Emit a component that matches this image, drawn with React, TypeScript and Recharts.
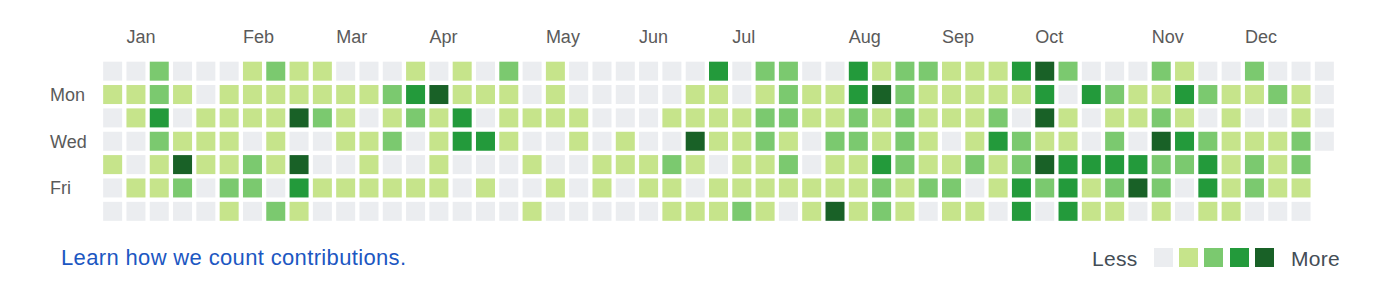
import React from 'react';
import { ScatterChart, Scatter, XAxis, YAxis } from 'recharts';

// month labels sit on the first week column of each month
const MONTHS = ['Jan', 'Feb', 'Mar', 'Apr', 'May', 'Jun', 'Jul', 'Aug', 'Sep', 'Oct', 'Nov', 'Dec'];
const MONTH_WEEKS = [1, 6, 10, 14, 19, 23, 27, 32, 36, 40, 45, 49];

const DAY_NAMES = ['Sun', 'Mon', 'Tue', 'Wed', 'Thu', 'Fri', 'Sat'];
const DAY_TICKS = [1, 3, 5];

const LEVEL_COLORS = ['#ebedf0', '#c6e48b', '#7bc96f', '#239a3b', '#196127'];

// contribution level (0-4) per week, one array per weekday
const sun = [0, 0, 2, 0, 0, 0, 1, 2, 1, 1, 0, 0, 0, 1, 0, 1, 0, 2, 0, 1, 0, 0, 0, 0, 0, 0, 3, 0, 2, 2, 0, 0, 3, 1, 2, 2, 1, 1, 1, 3, 4, 2, 0, 0, 0, 2, 1, 0, 0, 2, 0, 0, 0];
const mon = [1, 1, 2, 1, 0, 1, 1, 1, 1, 1, 1, 1, 2, 3, 4, 1, 1, 1, 0, 1, 0, 0, 0, 0, 0, 1, 1, 0, 1, 2, 1, 1, 3, 4, 2, 1, 1, 1, 1, 1, 3, 0, 3, 2, 1, 1, 3, 2, 1, 1, 2, 1, 0];
const tue = [0, 1, 3, 0, 1, 1, 1, 1, 4, 2, 1, 0, 1, 2, 1, 3, 0, 1, 1, 1, 1, 0, 0, 0, 1, 1, 1, 1, 2, 2, 1, 1, 2, 1, 2, 1, 1, 1, 2, 0, 4, 1, 0, 1, 1, 2, 1, 0, 1, 0, 0, 1, 0];
const wed = [0, 0, 2, 1, 1, 1, 0, 1, 0, 0, 1, 1, 2, 0, 1, 3, 3, 1, 0, 0, 1, 0, 1, 0, 0, 4, 1, 1, 2, 1, 0, 2, 2, 1, 2, 1, 0, 1, 3, 2, 1, 1, 0, 2, 0, 4, 3, 2, 1, 1, 1, 2, 0];
const thu = [1, 0, 1, 4, 1, 1, 2, 1, 4, 0, 0, 1, 0, 0, 1, 0, 0, 0, 1, 0, 0, 1, 1, 1, 2, 1, 0, 1, 1, 2, 0, 1, 1, 3, 2, 1, 1, 2, 1, 2, 4, 3, 3, 3, 3, 2, 2, 3, 1, 2, 1, 2];
const fri = [0, 1, 1, 2, 0, 2, 2, 0, 3, 1, 1, 1, 1, 1, 1, 0, 1, 0, 0, 1, 0, 1, 0, 1, 1, 0, 1, 1, 1, 1, 1, 1, 1, 2, 1, 2, 2, 0, 1, 3, 2, 3, 1, 2, 4, 2, 0, 3, 1, 2, 1, 1];
const sat = [0, 0, 0, 0, 0, 1, 0, 2, 1, 0, 0, 0, 0, 0, 0, 0, 0, 0, 1, 0, 0, 0, 0, 0, 1, 1, 1, 2, 1, 0, 1, 4, 1, 2, 1, 0, 1, 1, 0, 3, 0, 3, 1, 1, 0, 1, 0, 1, 1, 0, 0, 0];

const WEEKDAYS = [sun, mon, tue, wed, thu, fri, sat];

const cells = WEEKDAYS.flatMap((row, day) => row.map((level, week) => ({ week, day, level })));

const CELL = 19;
const LABEL_FONT = '"Liberation Sans", Helvetica, Arial, sans-serif';

const CellShape = (props: any) => {
  const { cx, cy, payload } = props;
  return (
    <rect
      x={cx - CELL / 2}
      y={cy - CELL / 2}
      width={CELL}
      height={CELL}
      fill={LEVEL_COLORS[payload.level]}
    />
  );
};

const MonthTick = (props: any) => {
  const { x, y, payload } = props;
  return (
    <text x={x - CELL / 2} y={y - 16.5} textAnchor="start" fontSize={18} fill="#5a5a5a" fontFamily={LABEL_FONT}>
      {MONTHS[MONTH_WEEKS.indexOf(payload.value)]}
    </text>
  );
};

const DayTick = (props: any) => {
  const { x, y, payload } = props;
  return (
    <text x={x - 51} y={y} dy="0.35em" textAnchor="start" fontSize={18} fill="#5a5a5a" fontFamily={LABEL_FONT}>
      {DAY_NAMES[payload.value]}
    </text>
  );
};

const App: React.FC = () => {
  return (
    <div style={{ position: 'absolute', left: 0, top: 0, width: 1400, height: 295, background: '#fff' }}>
      <ScatterChart width={1400} height={295} margin={{ top: 29.5, right: 64, bottom: 72, left: 0 }}>
        <XAxis
          type="number"
          dataKey="week"
          orientation="top"
          domain={[-0.5, 52.5]}
          ticks={MONTH_WEEKS}
          interval={0}
          height={30}
          tickSize={0}
          tickMargin={0}
          axisLine={false}
          tickLine={false}
          tick={<MonthTick />}
        />
        <YAxis
          type="number"
          dataKey="day"
          reversed
          domain={[-0.5, 6.5]}
          ticks={DAY_TICKS}
          interval={0}
          width={101}
          tickSize={0}
          tickMargin={0}
          axisLine={false}
          tickLine={false}
          tick={<DayTick />}
        />
        <Scatter data={cells} shape={<CellShape />} isAnimationActive={false} />
      </ScatterChart>

      <div
        style={{
          position: 'absolute',
          left: 61,
          top: 247,
          fontFamily: LABEL_FONT,
          fontSize: 22,
          lineHeight: '22px',
          letterSpacing: 0.35,
          color: '#1c57c2',
          whiteSpace: 'nowrap',
        }}
      >
        Learn how we count contributions.
      </div>

      <div style={{ position: 'absolute', left: 1092, top: 248, fontFamily: LABEL_FONT, fontSize: 21, lineHeight: '21px', letterSpacing: 0.3, color: '#444d56' }}>
        Less
      </div>
      {LEVEL_COLORS.map((c, i) => (
        <div
          key={c}
          style={{ position: 'absolute', left: 1154 + i * 25.2, top: 248, width: CELL, height: CELL, background: c }}
        />
      ))}
      <div style={{ position: 'absolute', left: 1291, top: 248, fontFamily: LABEL_FONT, fontSize: 21, lineHeight: '21px', letterSpacing: 0.3, color: '#444d56' }}>
        More
      </div>
    </div>
  );
};

export default App;
